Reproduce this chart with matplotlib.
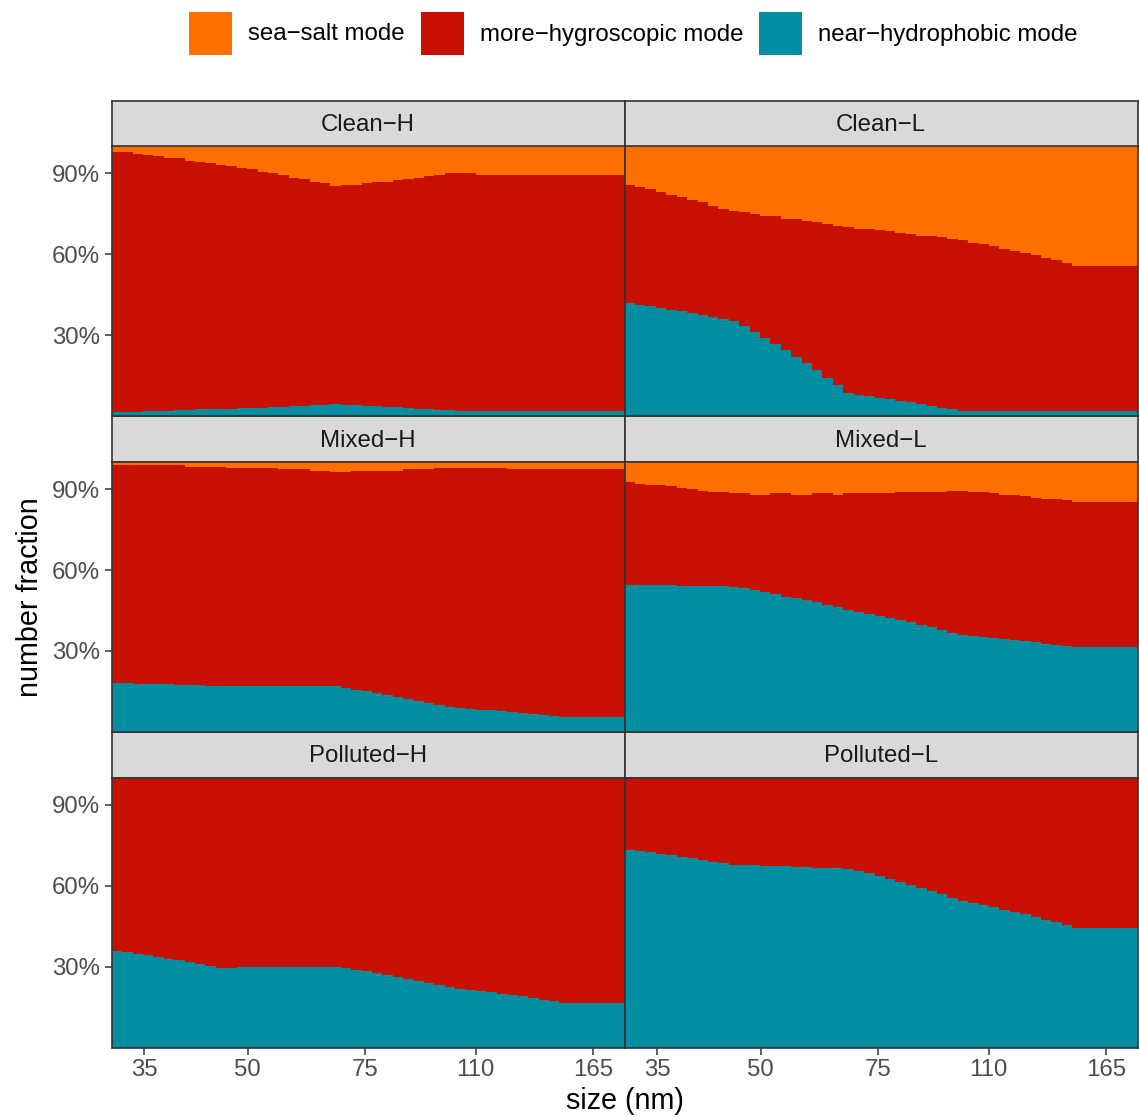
import numpy as np
import matplotlib.pyplot as plt
from matplotlib.ticker import FixedLocator, NullLocator, PercentFormatter
from matplotlib.patches import Rectangle

plt.rcParams['font.family'] = ['Liberation Sans', 'DejaVu Sans']

W, H = 1139, 1120

# lower edges of the size bins (nm), 64 channels per decade; last bin runs to the axis end
size_edges = [31.26, 32.41, 33.59, 34.82, 36.10, 37.42, 38.79, 40.21, 41.69, 43.21,
              44.80, 46.44, 48.14, 49.90, 51.73, 53.63, 55.59, 57.63, 59.74, 61.93,
              64.20, 66.55, 68.99, 71.52, 74.14, 76.85, 79.67, 82.59, 85.61, 88.75,
              92.00, 95.37, 98.86, 102.49, 106.24, 110.13, 114.17, 118.35, 122.69, 127.18,
              131.84, 136.67, 141.68, 146.87]
size_min = 31.26
size_max = 184.1
size_ticks = [35, 50, 75, 110, 165]

panel_names = ['Clean−H', 'Clean−L', 'Mixed−H', 'Mixed−L', 'Polluted−H', 'Polluted−L']
mode_names = ['sea−salt mode', 'more−hygroscopic mode', 'near−hydrophobic mode']
mode_colors = ['#FF6F00', '#C71000', '#008EA0']

# number fraction (%) per bin
clean_h_hydrophobic = [1.5, 1.5, 1.5, 1.9, 1.9, 1.9, 2.2, 2.2, 2.6, 2.6, 2.6, 2.6, 3.0, 3.0, 3.0,
                       3.3, 3.3, 3.7, 3.7, 4.1, 4.1, 4.4, 4.1, 4.1, 3.7, 3.7, 3.3, 3.3, 3.0, 2.6,
                       2.6, 2.2, 2.2, 1.9, 1.9, 1.9, 1.9, 1.9, 1.9, 1.9, 1.9, 1.9, 1.9, 1.9]
clean_h_seasalt = [1.9, 2.2, 2.6, 3.3, 3.7, 4.1, 4.4, 5.2, 5.6, 6.3, 6.7, 7.4, 7.8, 8.5, 9.3,
                   10.0, 10.7, 11.5, 11.9, 13.0, 13.7, 14.8, 14.4, 14.1, 13.7, 13.3, 13.0, 12.6,
                   11.9, 11.5, 11.1, 10.7, 10.0, 10.0, 10.0, 10.4, 10.4, 10.4, 10.4, 10.4,
                   10.7, 10.7, 10.7, 10.7]

clean_l_hydrophobic = [41.9, 41.1, 40.7, 40.0, 39.3, 38.9, 38.1, 37.4, 36.7, 35.9, 35.2, 33.3,
                       31.1, 28.9, 26.7, 24.4, 21.9, 19.6, 17.0, 14.1, 11.5, 8.5, 7.8, 7.4, 6.7,
                       6.3, 5.6, 5.2, 4.4, 3.7, 3.0, 2.6, 1.9, 1.9, 1.9, 1.9, 1.9, 1.9, 1.9, 1.9,
                       1.9, 1.9, 1.9, 1.9]
clean_l_seasalt = [14.4, 15.2, 15.9, 17.0, 17.8, 18.9, 20.0, 20.7, 21.9, 23.0, 24.1, 24.4, 25.2,
                   25.6, 25.9, 26.7, 27.0, 27.8, 28.1, 28.9, 29.6, 30.0, 30.7, 30.7, 31.1, 31.5,
                   32.2, 32.6, 33.0, 33.3, 33.7, 34.4, 34.8, 35.6, 36.3, 37.0, 38.1, 38.9, 39.6,
                   40.4, 41.5, 42.2, 43.3, 44.4]

mixed_h_hydrophobic = [18.0, 18.0, 17.7, 17.7, 17.7, 17.7, 17.3, 17.3, 17.3, 16.9, 16.9, 16.9,
                       16.9, 16.9, 16.9, 16.9, 16.9, 16.9, 16.9, 16.9, 16.9, 16.9, 16.2, 15.4,
                       15.1, 14.3, 13.6, 12.8, 12.1, 11.4, 10.6, 9.9, 9.1, 8.8, 8.4, 8.0, 8.0,
                       7.7, 7.3, 6.9, 6.5, 6.2, 5.8, 5.4]
mixed_h_seasalt = [0.9, 0.9, 0.9, 1.2, 1.2, 1.2, 1.2, 1.6, 1.6, 1.6, 1.6, 2.0, 2.0, 2.0, 2.3,
                   2.3, 2.7, 2.7, 2.7, 3.1, 3.1, 3.5, 3.5, 3.1, 3.1, 3.1, 3.1, 3.1, 2.7, 2.7,
                   2.7, 2.3, 2.3, 2.3, 2.3, 2.3, 2.3, 2.3, 2.7, 2.7, 2.7, 2.7, 2.7, 2.7]

mixed_l_hydrophobic = [54.3, 54.3, 54.3, 54.3, 54.3, 54.0, 54.0, 54.0, 54.0, 54.0, 53.6, 53.2,
                       52.5, 51.7, 51.0, 50.2, 49.5, 48.8, 48.0, 46.9, 46.2, 45.1, 44.3, 43.6,
                       42.8, 42.1, 41.4, 40.6, 39.5, 38.8, 37.7, 36.5, 35.8, 35.4, 35.1, 34.7,
                       34.3, 34.0, 33.6, 33.2, 32.5, 32.1, 31.7, 31.4]
mixed_l_seasalt = [7.5, 7.9, 8.3, 8.6, 9.0, 9.4, 9.8, 10.5, 10.9, 11.2, 11.6, 11.6, 12.0, 12.0,
                   11.6, 11.6, 12.0, 12.0, 11.6, 11.6, 12.0, 11.6, 11.6, 11.6, 11.6, 11.6, 11.2,
                   11.2, 11.2, 10.9, 10.9, 10.5, 10.5, 10.9, 11.2, 11.6, 12.0, 12.3, 12.7, 13.1,
                   13.5, 13.8, 14.2, 14.6]

polluted_h_hydrophobic = [35.8, 35.4, 34.7, 34.3, 33.6, 32.8, 32.5, 31.7, 31.0, 30.2, 29.5, 29.5,
                          29.9, 29.9, 29.9, 29.9, 29.9, 29.9, 29.9, 29.9, 29.9, 29.9, 29.5, 28.8,
                          28.4, 27.7, 26.9, 26.2, 25.4, 24.7, 24.0, 23.2, 22.5, 21.7, 21.4, 21.0,
                          20.6, 19.9, 19.5, 19.1, 18.4, 17.7, 17.3, 16.5]
polluted_h_seasalt = [0.0] * 44

polluted_l_hydrophobic = [73.2, 72.8, 72.5, 71.7, 71.4, 70.6, 70.2, 69.5, 68.8, 68.4, 67.7, 67.7,
                          67.7, 67.3, 67.3, 67.3, 66.9, 66.9, 66.5, 66.5, 66.5, 66.2, 65.4, 64.7,
                          63.6, 62.5, 61.4, 60.2, 59.1, 58.0, 56.9, 55.4, 54.3, 53.6, 52.8, 52.1,
                          51.0, 50.2, 49.5, 48.4, 47.3, 46.5, 45.4, 44.3]
polluted_l_seasalt = [0.0] * 44

hydrophobic = [clean_h_hydrophobic, clean_l_hydrophobic, mixed_h_hydrophobic,
               mixed_l_hydrophobic, polluted_h_hydrophobic, polluted_l_hydrophobic]
seasalt = [clean_h_seasalt, clean_l_seasalt, mixed_h_seasalt,
           mixed_l_seasalt, polluted_h_seasalt, polluted_l_seasalt]

edges = np.array(size_edges + [size_max])

fig = plt.figure(figsize=(W / 100, H / 100), dpi=100)

small = 17.3
col_x = [111.8, 624.7]
col_w = 512.9
row_top = 100.5
row_h = 315.7
strip_h = 46.0
panel_h = row_h - strip_h
border = '#333333'

for i, name in enumerate(panel_names):
    r, c = divmod(i, 2)
    x0 = col_x[c]
    st = row_top + r * row_h
    pt = st + strip_h
    ax = fig.add_axes([x0 / W, 1 - (pt + panel_h) / H, col_w / W, panel_h / H])
    sx = fig.add_axes([x0 / W, 1 - pt / H, col_w / W, strip_h / H])

    hyd = np.array(hydrophobic[i]) / 100
    salt = np.array(seasalt[i]) / 100
    # orange background = sea-salt share, red up to 1 - sea-salt, teal on top from 0
    ax.set_facecolor(mode_colors[0])
    ax.stairs(1 - salt, edges, baseline=0, fill=True, color=mode_colors[1], lw=0)
    ax.stairs(hyd, edges, baseline=0, fill=True, color=mode_colors[2], lw=0)

    ax.set_xscale('log')
    ax.set_xlim(size_min, size_max)
    ax.set_ylim(0, 1)
    ax.xaxis.set_major_locator(FixedLocator(size_ticks))
    ax.xaxis.set_minor_locator(NullLocator())
    ax.set_xticklabels([str(t) for t in size_ticks])
    ax.yaxis.set_major_locator(FixedLocator([0.3, 0.6, 0.9]))
    ax.yaxis.set_major_formatter(PercentFormatter(1.0, decimals=0))
    ax.tick_params(length=5, width=1.1, color=border, labelcolor='#4D4D4D',
                   labelsize=small, pad=3.5)
    if r < 2:
        ax.tick_params(axis='x', bottom=False, labelbottom=False)
    if c == 1:
        ax.tick_params(axis='y', left=False, labelleft=False)
    for s in ax.spines.values():
        s.set_color(border)
        s.set_linewidth(1.2)
    ax.set_zorder(2)

    sx.set_facecolor('#D9D9D9')
    sx.set_xticks([])
    sx.set_yticks([])
    for s in sx.spines.values():
        s.set_color(border)
        s.set_linewidth(1.2)
    sx.text(0.5, 0.47, name, ha='center', va='center', fontsize=small,
            color='#1A1A1A', transform=sx.transAxes)

fig.text(30 / W, 1 - 597 / H, 'number fraction', rotation=90, ha='center', va='center',
         fontsize=20.7, color='black')
fig.text(625 / W, 1 - 1101 / H, 'size (nm)', ha='center', va='center',
         fontsize=20.7, color='black')

# legend on top
key_x = [189, 421, 759]
key_top, key_size = 12, 43
for kx, col, lab in zip(key_x, mode_colors, mode_names):
    fig.add_artist(Rectangle((kx / W, 1 - (key_top + key_size) / H), key_size / W, key_size / H,
                             transform=fig.transFigure, facecolor=col, edgecolor='none'))
    fig.text((kx + key_size + 16) / W, 1 - (key_top + key_size / 2 + 1) / H, lab,
             ha='left', va='center', fontsize=small, color='black')

fig.savefig('out.png', dpi=100)
